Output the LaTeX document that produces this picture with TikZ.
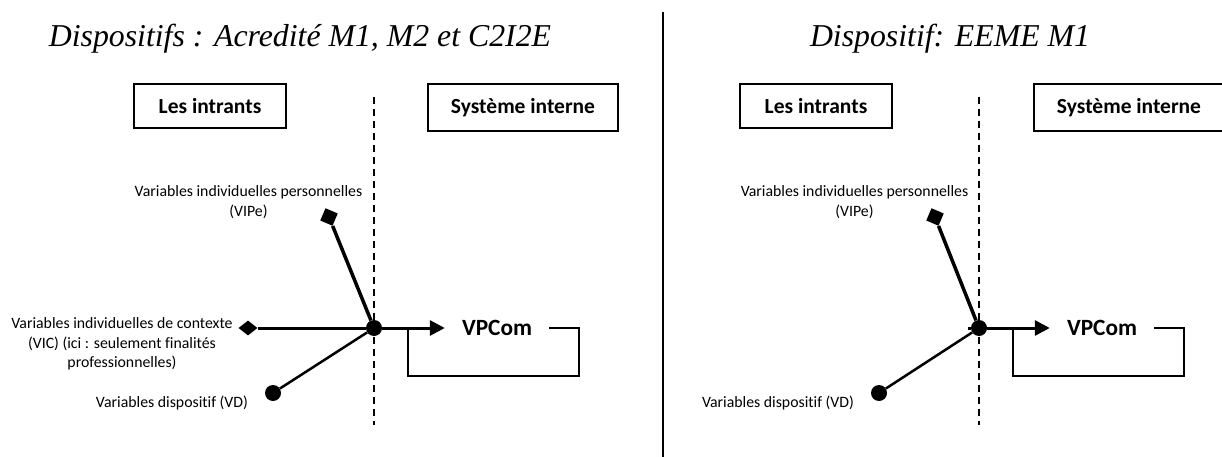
\documentclass[tikz,border=0pt]{standalone}
\usepackage{fontspec}
\setmainfont{Liberation Serif}
\newfontfamily\calibri[Ligatures=CommonOff]{Carlito}
\usetikzlibrary{arrows.meta, shapes.geometric}

\begin{document}
\begin{tikzpicture}[
    x=1pt, y=-1pt,
    >=Latex,
    title style/.style={font=\fontsize{31.8}{36}\selectfont\itshape, anchor=base},
    box style/.style={draw, line width=2pt, font=\calibri\bfseries\fontsize{21.5}{25}\selectfont, inner sep=0pt},
    label style/.style={font=\calibri\fontsize{15.8}{19.5}\selectfont, align=center},
    hub style/.style={circle, fill, inner sep=0pt, minimum size=16pt},
    diamond end/.style={diamond, fill, inner sep=0pt, minimum width=19pt, minimum height=15pt},
    dot end/.style={circle, fill, inner sep=0pt, minimum size=16pt},
    out style/.style={font=\calibri\bfseries\fontsize{23.3}{27}\selectfont, inner xsep=17pt, inner ysep=0pt},
    link style/.style={line width=3pt},
    arrow style/.style={line width=3pt, -{Triangle[length=15pt, width=15pt]}},
    loop style/.style={line width=2.5pt},
    dashed style/.style={line width=2pt, dash pattern=on 7pt off 5pt}
]
\useasboundingbox (0,0) rectangle (1222,457);

% Left panel
\node[title style] (titleL) at (300,47) {Dispositifs : Acredité M1, M2 et C2I2E};
\node[box style, minimum width=152pt, minimum height=44pt] (inL) at (210,106) {Les intrants};
\node[box style, minimum width=190pt, minimum height=47pt] (sysL) at (523,107.5) {Système interne};
\draw[dashed style] (374,97) -- (374,425);

\node[hub style] (hubL) at (374,328) {};
\node[diamond end, rotate=22, minimum width=19pt, minimum height=19pt] (vipeL) at (329,217) {};
\node[diamond end] (vicL) at (248,328) {};
\node[dot end] (vdL) at (273,393) {};

\node[label style] (vipeTextL) at (248.5,202) {Variables individuelles personnelles\\(VIPe)};
\node[label style] (vicTextL) at (122,344) {Variables individuelles de contexte\\(VIC) (ici : seulement finalités\\professionnelles)};
\node[label style] (vdTextL) at (172,403) {Variables dispositif (VD)};

\draw[link style, line width=3.5pt] (vipeL) -- (hubL);
\draw[link style] (vicL) -- (hubL);
\draw[link style, line width=2.5pt] (vdL) -- (hubL);

\node[out style] (vpcomL) at (497,328) {VPCom};
\draw[arrow style] (hubL) -- (vpcomL);
\coordinate (loopL) at (408,328);
\draw[loop style] (vpcomL.east) -| ++(30,48) -| (loopL);

% Separation
\draw[line width=2.5pt] (663,12) -- (663,457);

% Right panel
\node[title style] (titleR) at (950,47) {Dispositif: EEME M1};
\node[box style, minimum width=152pt, minimum height=44pt] (inR) at (816,106) {Les intrants};
\node[box style, minimum width=190pt, minimum height=47pt] (sysR) at (1129,107.5) {Système interne};
\draw[dashed style] (979,97) -- (979,425);

\node[hub style] (hubR) at (979,328) {};
\node[diamond end, rotate=22, minimum width=19pt, minimum height=19pt] (vipeR) at (935,217) {};
\node[dot end] (vdR) at (879,393) {};

\node[label style] (vipeTextR) at (854.5,202) {Variables individuelles personnelles\\(VIPe)};
\node[label style] (vdTextR) at (778,403) {Variables dispositif (VD)};

\draw[link style, line width=3.5pt] (vipeR) -- (hubR);
\draw[link style, line width=2.5pt] (vdR) -- (hubR);
\coordinate (stubR) at (968,328);
\draw[link style] (stubR) -- (hubR);

\node[out style] (vpcomR) at (1102,328) {VPCom};
\draw[arrow style] (hubR) -- (vpcomR);
\coordinate (loopR) at (1013,328);
\draw[loop style] (vpcomR.east) -| ++(30,48) -| (loopR);
\end{tikzpicture}
\end{document}
